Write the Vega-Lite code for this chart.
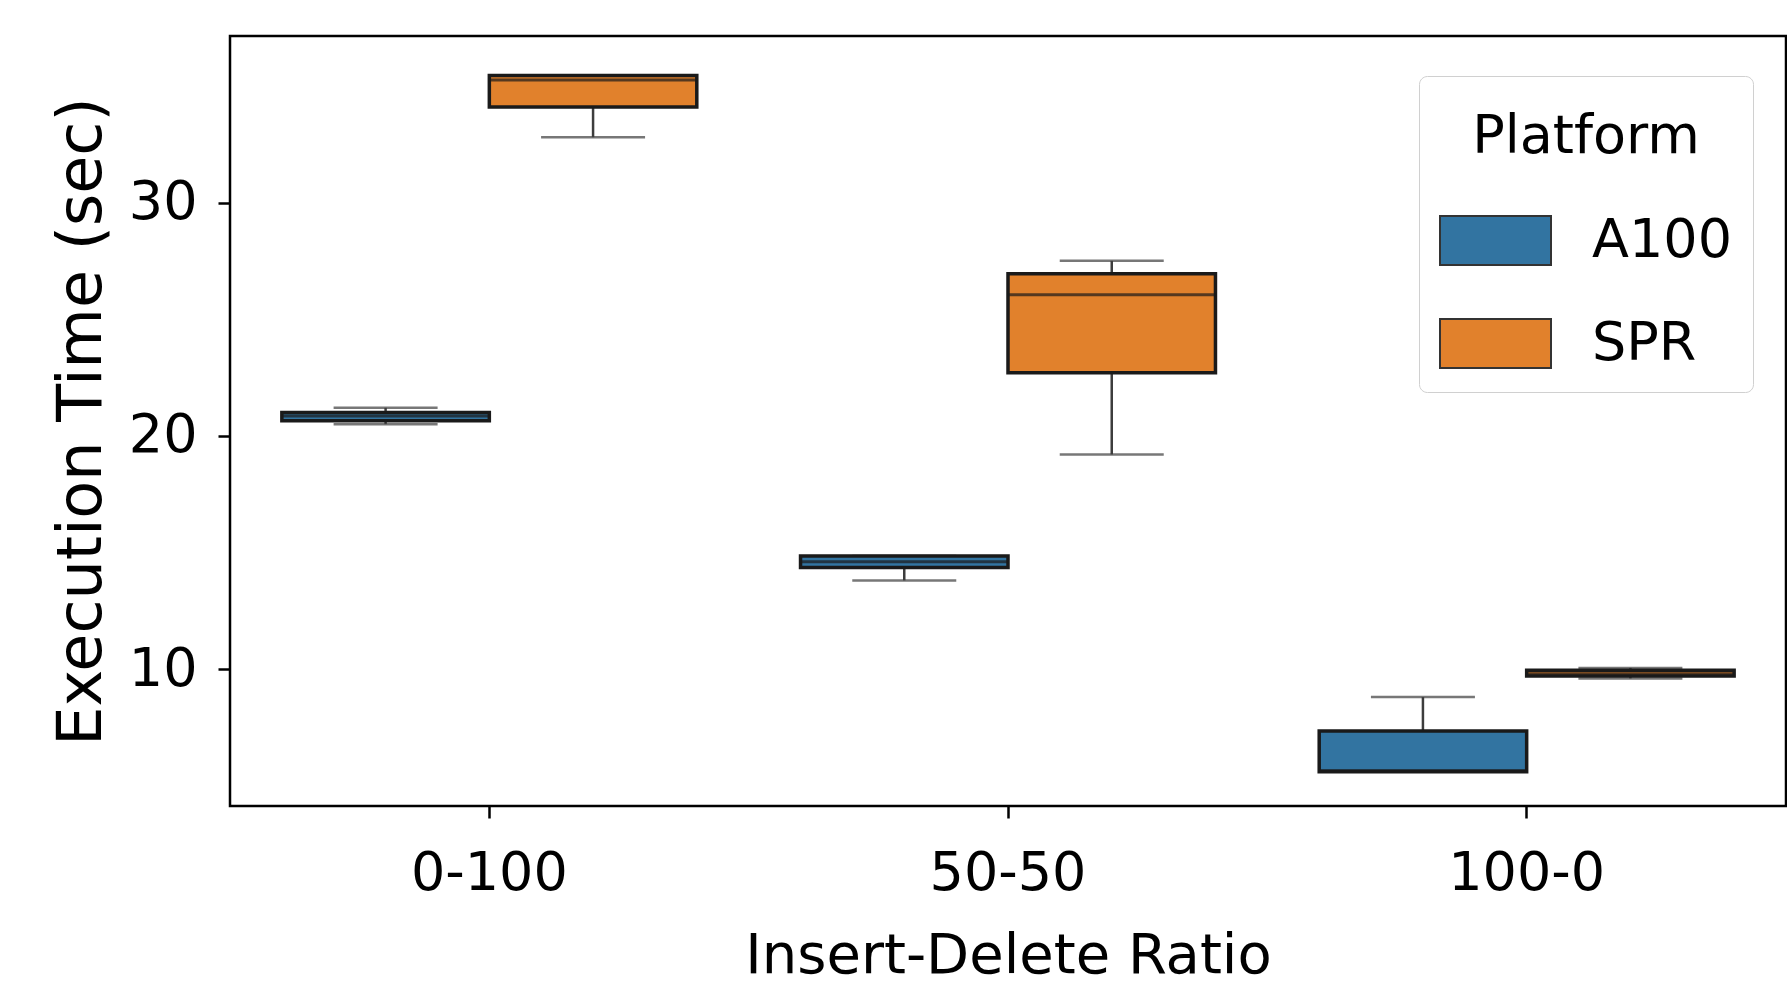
{
  "$schema": "https://vega.github.io/schema/vega-lite/v6.json",
  "width": 1556,
  "height": 770,
  "autosize": {"type": "none"},
  "padding": {"left": 230, "top": 36, "right": 1, "bottom": 182},
  "background": "white",
  "config": {
    "font": "DejaVu Sans",
    "view": {"stroke": "black", "strokeWidth": 2.5},
    "axis": {"domain": false, "grid": false, "tickColor": "black", "tickWidth": 2.5, "tickSize": 12, "labelColor": "black", "titleColor": "black", "titleFontWeight": "normal"}
  },
  "data": {
    "values": [
      {"Ratio": "0-100", "Platform": "A100", "min": 20.5, "q1": 20.65, "median": 20.85, "q3": 21.0, "max": 21.2},
      {"Ratio": "0-100", "Platform": "SPR", "min": 32.8, "q1": 34.1, "median": 35.25, "q3": 35.45, "max": 35.45},
      {"Ratio": "50-50", "Platform": "A100", "min": 13.8, "q1": 14.35, "median": 14.6, "q3": 14.85, "max": 14.85},
      {"Ratio": "50-50", "Platform": "SPR", "min": 19.2, "q1": 22.7, "median": 26.05, "q3": 26.95, "max": 27.5},
      {"Ratio": "100-0", "Platform": "A100", "min": 5.6, "q1": 5.6, "median": 5.65, "q3": 7.35, "max": 8.8},
      {"Ratio": "100-0", "Platform": "SPR", "min": 9.6, "q1": 9.7, "median": 9.8, "q3": 9.95, "max": 10.05}
    ]
  },
  "encoding": {
    "x": {
      "field": "Ratio", "type": "nominal", "sort": ["0-100", "50-50", "100-0"],
      "scale": {"paddingInner": 0.2, "paddingOuter": 0.1},
      "axis": {"title": "Insert-Delete Ratio", "labelAngle": 0, "labelFontSize": 54, "titleFontSize": 56, "labelPadding": 28, "titlePadding": 28}
    },
    "xOffset": {"field": "Platform", "type": "nominal", "sort": ["A100", "SPR"], "scale": {"paddingInner": 0, "paddingOuter": 0}}
  },
  "layer": [
    {
      "mark": {"type": "rule", "color": "#3d3d3d", "strokeWidth": 2.5},
      "encoding": {
        "y": {"field": "min", "type": "quantitative", "scale": {"domain": [4.13, 37.14], "nice": false, "zero": false},
          "axis": {"title": "Execution Time (sec)", "values": [10, 20, 30], "labelFontSize": 54, "titleFontSize": 62, "labelPadding": 21, "titlePadding": 15}},
        "y2": {"field": "max"}
      }
    },
    {
      "mark": {"type": "tick", "orient": "horizontal", "color": "#3d3d3d", "size": 104, "thickness": 2.5},
      "encoding": {"y": {"field": "min", "type": "quantitative"}}
    },
    {
      "mark": {"type": "tick", "orient": "horizontal", "color": "#3d3d3d", "size": 104, "thickness": 2.5},
      "encoding": {"y": {"field": "max", "type": "quantitative"}}
    },
    {
      "mark": {"type": "bar", "stroke": "#1a1a1a", "strokeWidth": 3.5, "opacity": 1},
      "encoding": {
        "y": {"field": "q1", "type": "quantitative"},
        "y2": {"field": "q3"},
        "color": {
          "field": "Platform", "type": "nominal",
          "scale": {"domain": ["A100", "SPR"], "range": ["#3274a1", "#e1812c"]},
          "legend": {
            "title": ["", "Platform"], "titleLineHeight": 14, "titleLimit": 400,
            "orient": "none", "legendX": 1189, "legendY": 40,
            "fillColor": "white", "strokeColor": "#d0d0d0", "cornerRadius": 8, "padding": 20,
            "titleFontSize": 54, "labelFontSize": 54, "titleFontWeight": "normal", "titleAnchor": "middle",
            "titleColor": "black", "labelColor": "black",
            "symbolType": "M-1,-0.44H1V0.44H-1Z", "symbolSize": 12321, "symbolStrokeColor": "#333", "symbolStrokeWidth": 2,
            "symbolOpacity": 1, "labelOffset": 40, "titlePadding": 20, "rowPadding": 18
          }
        }
      }
    },
    {
      "mark": {"type": "tick", "orient": "horizontal", "color": "#1a1a1a", "size": 207, "thickness": 3},
      "encoding": {"y": {"field": "median", "type": "quantitative"}}
    }
  ]
}
